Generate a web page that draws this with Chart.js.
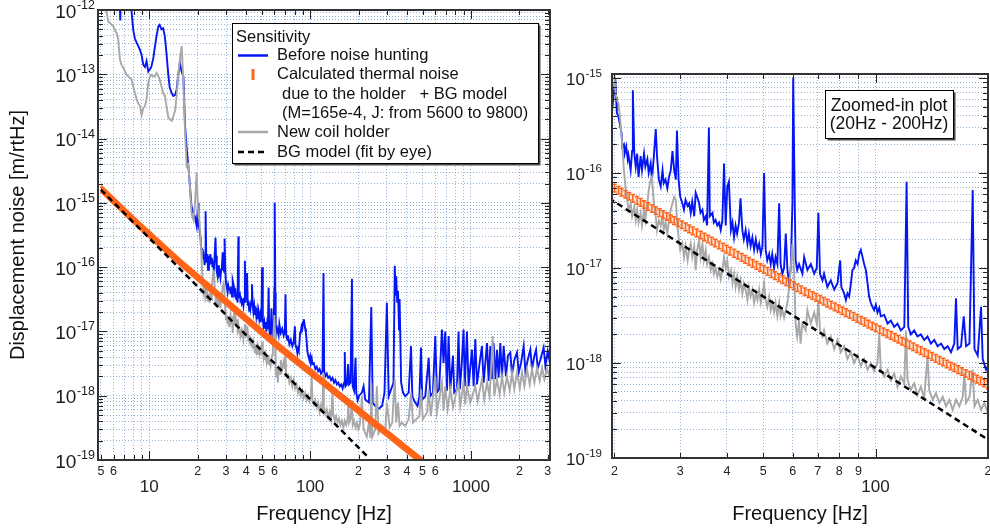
<!DOCTYPE html>
<html>
<head>
<meta charset="utf-8">
<script src="https://cdn.jsdelivr.net/npm/chart.js@4.4.0/dist/chart.umd.min.js"></script>
<style>
  html, body { margin: 0; padding: 0; background: #fff; overflow: hidden; }
  #wrap { position: relative; width: 990px; height: 530px; overflow: hidden; background: #fff; }
  #left { position: absolute; left: 0; top: 0; }
  #right { position: absolute; left: 560px; top: 0; }
</style>
</head>
<body>
<div id="wrap">
  <canvas id="left" width="560" height="530"></canvas>
  <canvas id="right" width="440" height="530"></canvas>
</div>
<script>
// ---- data ----
const blueF = [4.8, 6.5, 6.6, 6.7, 7.7, 7.76, 7.95, 8.14, 8.34, 8.55, 8.75, 8.96, 9.18, 9.4, 9.62, 9.86, 10.1, 10.3, 10.6, 10.8,
  11.1, 11.4, 11.6, 11.9, 12.2, 12.5, 12.8, 13.1, 13.4, 13.8, 14.1, 14.5, 14.8, 15.1, 15.5, 15.9, 16.3, 16.7, 17.1, 17.5,
  17.9, 18.3, 18.8, 19.2, 19.7, 20.1, 20.2, 20.3, 20.5, 20.8, 20.9, 21.0, 21.2, 21.3, 21.5, 21.7, 21.8, 22.1, 22.3, 22.4,
  22.6, 22.8, 23.0, 23.2, 23.5, 23.7, 24.0, 24.2, 24.5, 24.7, 25.0, 25.2, 25.5, 25.8, 26.0, 26.3, 26.6, 26.9, 27.1, 27.4,
  27.7, 28.0, 28.3, 28.6, 28.9, 29.2, 29.4, 29.7, 30.0, 30.4, 30.7, 31.0, 31.4, 31.7, 32.0, 32.3, 32.7, 33.0, 33.3, 33.7,
  34.0, 34.4, 34.7, 35.1, 35.4, 35.8, 36.0, 36.6, 36.9, 37.3, 37.7, 38.1, 38.5, 38.9, 39.3, 39.7, 40.1, 40.5, 41.0, 41.4,
  41.8, 42.2, 42.6, 43.1, 43.5, 44.0, 44.4, 44.9, 45.4, 45.8, 46.3, 46.8, 47.3, 47.8, 48.3, 48.8, 49.3, 49.8, 50.3, 50.8,
  51.3, 51.9, 52.4, 52.9, 53.5, 54.0, 54.6, 55.2, 55.7, 56.3, 56.9, 57.5, 58.1, 58.7, 59.3, 59.9, 60.2, 60.8, 61.1, 61.7,
  62.4, 63.7, 64.4, 65.7, 67.1, 68.5, 69.6, 70.3, 71.0, 72.1, 72.8, 74.3, 75.9, 77.5, 79.1, 80.4, 81.0, 82.4, 83.3, 84.1,
  85.0, 85.9, 86.7, 87.6, 88.5, 89.5, 90.4, 91.3, 92.3, 93.2, 94.2, 95.2, 96.1, 97.1, 98.1, 99.1, 100.2, 101.2, 102.3, 103.3,
  105.5, 107.7, 109.9, 112.2, 114.5, 116.9, 119.4, 121.1, 122.3, 124.3, 126.9, 129.5, 132.2, 135.0, 137.8, 140.7, 143.6, 146.6, 149.7, 152.8,
  156.0, 159.2, 162.5, 164.2, 165.9, 169.4, 172.2, 174.7, 178.4, 182.0, 184.0, 187.7, 191.6, 193.6, 197.6, 201.7, 210, 215, 220, 232,
  240, 245, 254, 266, 280, 290, 300, 308, 319, 330, 336, 340, 343, 348, 352, 357, 360, 368, 378, 390,
  410, 424, 432, 450, 465, 478, 489, 498, 520, 546, 558, 580, 600, 614, 634, 660, 675, 692, 709, 726,
  744, 773, 787, 818, 837, 853, 877, 899, 916, 944, 966, 1014, 1039, 1064, 1090, 1131, 1170, 1199, 1258, 1288,
  1320, 1351, 1383, 1417, 1451, 1486, 1522, 1559, 1597, 1650, 1699, 1757, 1799, 1860, 1933, 1980, 2047, 2127, 2179, 2253,
  2340, 2397, 2480, 2540, 2600, 2700, 2830, 2902, 3000, 3100];
const blueV = [3e-12, 3e-12, 6.9e-13, 3e-12, 3e-12, 9.5e-13, 4.9e-13, 3.6e-13, 3.1e-13, 2.75e-13, 2.4e-13, 2.0e-13, 1.4e-13, 1.3e-13, 1.6e-13, 1.1e-13, 1.2e-13, 1.3e-13, 1.8e-13, 2.5e-13,
  4.0e-13, 5.6e-13, 5.9e-13, 5.0e-13, 5.2e-13, 3.9e-13, 2.1e-13, 1.05e-13, 6.2e-14, 5.1e-14, 4.6e-14, 4.8e-14, 5.8e-14, 9.3e-14, 1.5e-13, 1.1e-13, 9.3e-14, 1.55e-14, 6.8e-15, 3.7e-15,
  1.8e-15, 8.9e-16, 6.9e-16, 6.2e-16, 4.4e-16, 1.0e-15, 6.3e-16, 4.3e-16, 3.9e-16, 2.9e-16, 2.6e-16, 1.9e-16, 2.0e-16, 1.6e-16, 1.9e-16, 1.4e-16, 1.55e-16, 1.07e-16, 1.7e-16, 7.4e-16,
  1.6e-16, 1.17e-16, 1.6e-16, 9.1e-17, 1.5e-16, 1.07e-16, 1.6e-16, 1.17e-16, 1.4e-16, 1.0e-16, 1.26e-16, 8.5e-17, 1.5e-16, 2.9e-16, 1.5e-16, 8.5e-17, 7.2e-17, 1.07e-16, 7.8e-17, 8.5e-17,
  6.9e-17, 9.1e-17, 1.07e-16, 1.7e-16, 1.07e-16, 8.5e-17, 2.8e-16, 8.5e-17, 5.6e-17, 4.8e-17, 4.1e-17, 5.2e-17, 4.5e-17, 4.8e-17, 3.8e-17, 5.0e-17, 3.5e-17, 6.2e-17, 5.6e-17, 4.8e-17,
  3.8e-17, 4.1e-17, 3.2e-17, 3.5e-17, 2.8e-17, 3.0e-16, 3.5e-17, 3.8e-17, 3.0e-17, 3.2e-17, 2.8e-17, 3.0e-17, 2.5e-17, 3.2e-17, 1.26e-16, 2.8e-17, 7.2e-17, 8.1e-17, 2.5e-17, 3.0e-17,
  2.1e-17, 2.8e-17, 2.3e-17, 3.0e-17, 5.4e-17, 2.5e-17, 2.0e-17, 2.5e-17, 1.8e-17, 2.3e-17, 1.7e-17, 2.1e-17, 1.55e-17, 2.0e-17, 1.55e-17, 1.8e-17, 1.4e-17, 1.7e-17, 1.0e-16, 1.55e-17,
  1.2e-17, 1.4e-17, 1.1e-17, 1.4e-17, 1.0e-17, 1.3e-17, 1.1e-17, 4.8e-17, 1.1e-17, 8.7e-18, 1.0e-17, 2.3e-17, 9.5e-18, 6.9e-18, 1.0e-17, 4.8e-17, 1.0e-15, 4.0e-17, 1.2e-17, 9.5e-18,
  1.1e-17, 8.7e-18, 1.3e-17, 9.5e-18, 1.1e-17, 8.7e-18, 1.0e-17, 3.8e-17, 8.7e-18, 7.4e-18, 8.7e-18, 6.3e-18, 7.4e-18, 5.9e-18, 6.9e-18, 1.2e-17, 6.3e-18, 5.4e-18, 4.6e-18, 5.4e-18,
  5.0e-18, 6.9e-18, 9.5e-18, 1.0e-17, 1.2e-17, 1.1e-17, 1.4e-17, 1.55e-17, 1.3e-17, 1.1e-17, 9.5e-18, 6.9e-18, 5.0e-18, 4.3e-18, 3.9e-18, 3.6e-18, 4.1e-18, 3.4e-18, 3.8e-18, 3.1e-18,
  3.2e-18, 2.6e-18, 2.8e-18, 2.4e-18, 2.6e-18, 2.2e-18, 2.4e-18, 8.1e-17, 2.4e-18, 2.0e-18, 2.2e-18, 1.9e-18, 2.0e-18, 1.75e-18, 1.9e-18, 1.6e-18, 1.75e-18, 1.5e-18, 1.6e-18, 1.4e-18,
  1.5e-18, 1.3e-18, 1.6e-18, 4.8e-18, 1.4e-18, 1.5e-18, 3.1e-18, 1.5e-18, 1.6e-18, 6.6e-17, 1.4e-18, 1.2e-18, 3.9e-18, 1.1e-18, 8.5e-19, 1.0e-18, 1.12e-18, 1.4e-18, 8.7e-19, 7.8e-19,
  2.4e-17, 7.8e-19, 6.9e-19, 6.2e-19, 6.9e-19, 1.12e-18, 2.8e-17, 9.8e-19, 1.26e-18, 1.6e-18, 1.05e-16, 3.6e-17, 7.2e-17, 2.8e-17, 4.3e-17, 1.07e-17, 3.2e-17, 1.6e-18, 1.12e-18, 9.8e-19,
  1.12e-18, 5.9e-18, 9.8e-19, 7.8e-19, 6.9e-19, 9.8e-19, 5.6e-18, 8.7e-19, 9.8e-19, 3.9e-18, 9.8e-19, 1.12e-18, 8.5e-18, 1.12e-18, 1.26e-18, 1.07e-17, 3.2e-18, 1.0e-17, 1.2e-18, 8.5e-18,
  1.26e-18, 4.2e-18, 1.12e-18, 1.26e-18, 1.0e-17, 1.26e-18, 3.2e-18, 1.07e-17, 1.4e-18, 1.0e-17, 1.4e-18, 5.2e-18, 1.4e-18, 7.6e-18, 1.5e-18, 3.2e-18, 5.9e-18, 1.6e-18, 6.6e-18, 1.7e-18,
  5.9e-18, 1.8e-18, 6.6e-18, 1.8e-18, 5.2e-18, 1.9e-18, 6.6e-18, 1.9e-18, 5.9e-18, 2.0e-18, 4.2e-18, 4.7e-18, 2.1e-18, 3.6e-18, 4.7e-18, 2.3e-18, 3.2e-18, 5.9e-18, 2.4e-18, 3.6e-18,
  5.2e-18, 2.6e-18, 4.2e-18, 5.2e-18, 2.7e-18, 3.6e-18, 5.6e-18, 2.9e-18, 4.9e-18, 3.2e-18];

const grayF = [4.8, 5.3, 5.42, 5.56, 5.69, 5.83, 5.97, 6.11, 6.26, 6.41, 6.57, 6.73, 6.89, 7.06, 7.23, 7.4, 7.58, 7.76, 7.95, 8.14,
  8.34, 8.55, 8.75, 8.96, 9.18, 9.4, 9.62, 9.86, 10.1, 10.3, 10.6, 10.8, 11.1, 11.4, 11.6, 11.9, 12.2, 12.5, 12.8, 13.1,
  13.4, 13.8, 14.1, 14.5, 14.8, 15.1, 15.5, 15.9, 16.3, 16.7, 17.1, 17.5, 17.9, 18.3, 18.8, 19.2, 19.7, 20.1, 20.3, 20.5,
  20.8, 21.0, 21.2, 21.4, 21.6, 21.8, 22.1, 22.3, 22.6, 22.8, 23.0, 23.2, 23.5, 23.7, 24.0, 24.2, 24.5, 24.7, 25.0, 25.2,
  25.5, 25.8, 26.0, 26.3, 26.6, 26.9, 27.1, 27.4, 27.7, 28.0, 28.3, 28.6, 28.9, 29.2, 29.4, 29.7, 30.0, 30.4, 30.7, 31.0,
  31.4, 31.7, 32.0, 32.3, 32.7, 33.0, 33.3, 33.7, 34.0, 34.4, 34.7, 35.1, 35.4, 35.8, 36.2, 36.6, 36.9, 37.3, 37.7, 38.1,
  38.5, 38.9, 39.3, 39.7, 40.1, 40.5, 41.0, 41.4, 41.8, 42.2, 42.6, 43.1, 43.5, 44.0, 44.4, 44.9, 45.4, 45.8, 46.3, 46.8,
  47.3, 47.8, 48.3, 48.8, 49.3, 49.8, 50.3, 50.8, 51.3, 51.9, 52.4, 52.9, 53.5, 54.0, 54.6, 55.2, 55.7, 56.3, 56.9, 57.5,
  58.1, 58.7, 59.3, 59.9, 60.5, 61.1, 61.7, 62.4, 63.0, 63.7, 65.0, 65.7, 67.1, 68.5, 69.6, 70.3, 71.0, 72.1, 72.8, 74.3,
  75.9, 77.5, 79.1, 80.7, 82.4, 84.1, 85.9, 87.6, 89.5, 91.3, 93.2, 95.2, 97.1, 99.1, 101.2, 102.3, 103.3, 105.5, 107.7, 109.9,
  112.2, 114.5, 116.9, 119.4, 120.6, 121.8, 124.3, 126.9, 129.5, 132.2, 135.0, 137.8, 139.2, 142.2, 145.1, 148.2, 151.3, 154.4, 157.6, 160.9,
  164.2, 167.6, 171.1, 172.9, 174.7, 178.4, 182.0, 184.0, 187.7, 191.6, 195.6, 199.6, 203.7, 210, 215, 225, 232, 237, 240, 244,
  254, 260, 266, 280, 293, 300, 312, 324, 336, 343, 352, 360, 372, 390, 410, 424, 436, 457, 478, 489,
  502, 534, 546, 563, 600, 614, 660, 675, 692, 716, 744, 773, 837, 858, 899, 921, 944, 990, 1064, 1100,
  1170, 1210, 1258, 1306, 1364, 1395, 1451, 1507, 1559, 1612, 1674, 1740, 1799, 1860, 1933, 2010, 2077, 2148, 2230, 2320,
  2397, 2480, 2575, 2675, 2766, 2860, 2970, 3100];
const grayV = [2e-12, 1.3e-12, 9.5e-13, 6.6e-13, 6.3e-13, 5.9e-13, 5.6e-13, 4.9e-13, 4.4e-13, 3.5e-13, 1.7e-13, 1.4e-13, 1.26e-13, 1.12e-13, 9.8e-14, 9.3e-14, 8.7e-14, 8.3e-14, 6.5e-14, 5.1e-14,
  4.1e-14, 3.5e-14, 3.2e-14, 2.3e-14, 3.0e-14, 3.2e-14, 4.1e-14, 7.4e-14, 9.3e-14, 9.8e-14, 9.3e-14, 9.3e-14, 1.05e-13, 9.3e-14, 8.3e-14, 6.5e-14, 5.1e-14, 4.6e-14, 3.2e-14, 2.2e-14,
  2.0e-14, 1.9e-14, 2.2e-14, 2.8e-14, 4.6e-14, 9.3e-14, 1.7e-13, 2.75e-13, 7.4e-14, 1.2e-14, 3.7e-15, 4.0e-15, 1.8e-15, 6.9e-16, 5.5e-16, 8.9e-16, 3.0e-15, 7.4e-16, 5.9e-16, 5.4e-16,
  3.1e-16, 1.9e-16, 1.07e-16, 7.2e-17, 5.6e-17, 4.1e-17, 4.8e-17, 3.5e-17, 4.4e-17, 3.2e-17, 4.1e-17, 3.0e-17, 3.8e-17, 2.8e-17, 4.1e-17, 3.2e-17, 4.8e-17, 6.6e-17, 8.5e-17, 9.1e-17,
  4.8e-17, 3.5e-17, 2.5e-17, 3.2e-17, 2.8e-17, 3.5e-17, 2.5e-17, 3.0e-17, 2.3e-17, 3.2e-17, 4.1e-17, 4.8e-17, 5.6e-17, 5.2e-17, 3.2e-17, 2.1e-17, 1.55e-17, 1.8e-17, 1.3e-17, 1.7e-17,
  1.2e-17, 1.55e-17, 1.8e-17, 1.3e-17, 1.7e-17, 9.5e-18, 1.55e-17, 1.95e-17, 1.3e-17, 1.8e-17, 1.2e-17, 1.55e-17, 1.1e-17, 1.3e-17, 9.5e-18, 1.1e-17, 8.7e-18, 1.0e-17, 8.1e-18, 9.5e-18,
  7.6e-18, 9.5e-18, 1.3e-17, 1.0e-17, 1.2e-17, 8.1e-18, 9.5e-18, 6.9e-18, 8.7e-18, 6.3e-18, 8.1e-18, 5.9e-18, 7.4e-18, 5.4e-18, 6.9e-18, 5.9e-18, 4.6e-18, 6.3e-18, 5.0e-18, 5.9e-18,
  4.3e-18, 5.4e-18, 4.6e-18, 5.9e-18, 4.3e-18, 5.4e-18, 6.9e-18, 4.6e-18, 3.9e-18, 5.0e-18, 3.6e-18, 4.3e-18, 3.4e-18, 4.3e-18, 3.1e-18, 4.3e-18, 3.1e-18, 3.6e-18, 3.0e-18, 3.6e-18,
  4.3e-18, 6.3e-18, 1.0e-17, 1.8e-17, 9.5e-18, 2.6e-18, 1.9e-18, 2.8e-18, 1.6e-18, 2.6e-18, 2.2e-18, 3.6e-18, 2.6e-18, 3.4e-18, 2.6e-18, 4.6e-18, 2.2e-18, 1.9e-18, 2.2e-18, 1.6e-18,
  1.9e-18, 1.4e-18, 1.75e-18, 1.3e-18, 1.5e-18, 1.1e-18, 1.3e-18, 1.0e-18, 1.2e-18, 9.3e-19, 1.1e-18, 8.5e-19, 1.0e-18, 8.2e-19, 1.0e-18, 2.0e-18, 8.5e-19, 7.2e-19, 8.5e-19, 6.6e-19,
  7.8e-19, 5.6e-19, 7.2e-19, 6.1e-19, 2.2e-18, 6.6e-19, 5.2e-19, 6.1e-19, 4.6e-19, 5.6e-19, 4.3e-19, 1.2e-18, 5.2e-19, 4.1e-19, 4.8e-19, 3.8e-19, 4.4e-19, 3.5e-19, 4.1e-19, 3.2e-19,
  4.1e-19, 3.5e-19, 4.4e-19, 7.8e-19, 3.8e-19, 4.4e-19, 8.5e-19, 3.5e-19, 4.1e-19, 3.2e-19, 3.8e-19, 3.0e-19, 3.5e-19, 9.8e-19, 3.0e-19, 2.3e-19, 3.8e-19, 2.2e-19, 1.6e-18, 2.3e-19,
  3.0e-19, 1.4e-18, 2.6e-19, 3.4e-19, 2.8e-19, 7.8e-19, 3.2e-19, 3.8e-19, 1.8e-18, 3.8e-19, 7.8e-19, 3.4e-19, 3.8e-19, 3.4e-19, 4.3e-19, 1.12e-18, 3.8e-19, 4.3e-19, 4.8e-19, 1.26e-18,
  4.3e-19, 5.5e-19, 1.26e-18, 4.8e-19, 2.0e-18, 5.5e-19, 1.6e-18, 5.8e-19, 1.4e-18, 6.2e-19, 1.26e-18, 6.6e-19, 1.6e-18, 6.9e-19, 1.6e-18, 7.3e-19, 1.4e-18, 7.8e-19, 1.4e-18, 8.2e-19,
  1.8e-18, 8.7e-19, 1.6e-18, 9.8e-19, 8.5e-18, 9.8e-19, 1.8e-18, 1.05e-18, 2.0e-18, 1.12e-18, 2.0e-18, 1.2e-18, 2.3e-18, 1.26e-18, 2.3e-18, 1.3e-18, 2.3e-18, 1.4e-18, 2.6e-18, 1.5e-18,
  2.6e-18, 1.6e-18, 2.7e-18, 1.7e-18, 2.7e-18, 1.8e-18, 2.6e-18, 1.9e-18];

// calculated thermal noise + BG model: lower / upper end of each error bar
const thermF = [5.0, 6.31, 7.94, 10.0, 12.6, 15.8,
  20.0, 20.5, 20.9, 21.4, 21.9, 22.4, 23.0, 23.5, 24.0, 24.6, 25.2, 25.8, 26.4, 27.0, 27.6, 28.3, 28.9, 29.6, 30.3, 31.0,
  31.7, 32.4, 33.2, 34.0, 34.8, 35.6, 36.4, 37.2, 38.1, 39.0, 39.9, 40.8, 41.8, 42.8, 43.8, 44.8, 45.8, 46.9, 48.0, 49.1,
  50.2, 51.4, 52.6, 53.8, 55.1, 56.4, 57.7, 59.0, 60.4, 61.8, 63.2, 64.7, 66.2, 67.8, 69.3, 71.0, 72.6, 74.3, 76.0, 77.8,
  79.6, 81.5, 83.4, 85.3, 87.3, 89.3, 91.4, 93.5, 95.7, 98.0, 100.2, 102.6, 105.0, 107.4, 109.9, 112.5, 115.1, 117.8, 120.5, 123.3,
  126.2, 129.1, 132.1, 135.2, 138.4, 141.6, 144.9, 148.3, 151.7, 155.2, 158.9, 162.6, 166.4, 170.2, 174.2, 178.3, 182.4, 186.7, 191.0, 195.4,
  200.0, 251, 316, 398, 501, 550];
const thermHi = [1.82e-15, 1.05e-15, 6.03e-16, 3.55e-16, 2.09e-16, 1.26e-16,
  7.59e-17, 7.22e-17, 6.87e-17, 6.54e-17, 6.23e-17, 5.93e-17, 5.64e-17, 5.37e-17, 5.11e-17, 4.87e-17, 4.63e-17, 4.41e-17, 4.20e-17, 4.00e-17, 3.81e-17, 3.62e-17, 3.45e-17, 3.28e-17, 3.13e-17, 2.97e-17,
  2.83e-17, 2.70e-17, 2.57e-17, 2.44e-17, 2.32e-17, 2.21e-17, 2.11e-17, 2.01e-17, 1.91e-17, 1.82e-17, 1.73e-17, 1.65e-17, 1.57e-17, 1.49e-17, 1.42e-17, 1.35e-17, 1.29e-17, 1.23e-17, 1.17e-17, 1.11e-17,
  1.06e-17, 1.01e-17, 9.58e-18, 9.12e-18, 8.68e-18, 8.26e-18, 7.86e-18, 7.48e-18, 7.12e-18, 6.78e-18, 6.46e-18, 6.17e-18, 5.89e-18, 5.62e-18, 5.37e-18, 5.13e-18, 4.90e-18, 4.68e-18, 4.47e-18, 4.27e-18,
  4.07e-18, 3.89e-18, 3.72e-18, 3.55e-18, 3.39e-18, 3.24e-18, 3.09e-18, 2.95e-18, 2.82e-18, 2.69e-18, 2.57e-18, 2.45e-18, 2.34e-18, 2.24e-18, 2.14e-18, 2.04e-18, 1.95e-18, 1.86e-18, 1.78e-18, 1.70e-18,
  1.62e-18, 1.55e-18, 1.48e-18, 1.41e-18, 1.35e-18, 1.29e-18, 1.23e-18, 1.17e-18, 1.12e-18, 1.07e-18, 1.02e-18, 9.77e-19, 9.33e-19, 8.91e-19, 8.51e-19, 8.13e-19, 7.76e-19, 7.41e-19, 7.08e-19, 6.76e-19,
  6.46e-19, 4.07e-19, 2.57e-19, 1.62e-19, 1.02e-19, 8.51e-20];
const thermLo = [1.51e-15, 8.71e-16, 5.01e-16, 2.95e-16, 1.74e-16, 1.05e-16,
  6.31e-17, 6.01e-17, 5.72e-17, 5.44e-17, 5.18e-17, 4.93e-17, 4.69e-17, 4.47e-17, 4.25e-17, 4.05e-17, 3.86e-17, 3.67e-17, 3.49e-17, 3.33e-17, 3.17e-17, 3.01e-17, 2.87e-17, 2.73e-17, 2.60e-17, 2.47e-17,
  2.35e-17, 2.24e-17, 2.13e-17, 2.03e-17, 1.93e-17, 1.84e-17, 1.75e-17, 1.67e-17, 1.59e-17, 1.51e-17, 1.44e-17, 1.37e-17, 1.30e-17, 1.24e-17, 1.18e-17, 1.12e-17, 1.07e-17, 1.02e-17, 9.70e-18, 9.23e-18,
  8.79e-18, 8.37e-18, 7.96e-18, 7.58e-18, 7.22e-18, 6.87e-18, 6.54e-18, 6.23e-18, 5.93e-18, 5.64e-18, 5.37e-18, 5.13e-18, 4.90e-18, 4.68e-18, 4.47e-18, 4.27e-18, 4.07e-18, 3.89e-18, 3.72e-18, 3.55e-18,
  3.39e-18, 3.24e-18, 3.09e-18, 2.95e-18, 2.82e-18, 2.69e-18, 2.57e-18, 2.45e-18, 2.34e-18, 2.24e-18, 2.14e-18, 2.04e-18, 1.95e-18, 1.86e-18, 1.78e-18, 1.70e-18, 1.62e-18, 1.55e-18, 1.48e-18, 1.41e-18,
  1.35e-18, 1.29e-18, 1.23e-18, 1.17e-18, 1.12e-18, 1.07e-18, 1.02e-18, 9.77e-19, 9.33e-19, 8.91e-19, 8.51e-19, 8.13e-19, 7.76e-19, 7.41e-19, 7.08e-19, 6.76e-19, 6.46e-19, 6.17e-19, 5.89e-19, 5.62e-19,
  5.37e-19, 3.39e-19, 2.14e-19, 1.35e-19, 8.51e-20, 7.08e-20];

// BG model (fit by eye)
const bgF = [5, 230];
const bgV = [1.6e-15, 1.1e-19];

// axis ticks
const leftXTickVals = [5, 6, 7, 8, 9, 10, 20, 30, 40, 50, 60, 70, 80, 90, 100, 200, 300, 400, 500, 600, 700, 800, 900, 1000, 2000, 3000];
const leftXTickText = ['5', '6', '', '', '', '10', '2', '3', '4', '5', '6', '', '', '', '100', '2', '3', '4', '5', '6', '', '', '', '1000', '2', '3'];
const rightXTickVals = [20, 30, 40, 50, 60, 70, 80, 90, 100, 200];
const rightXTickText = ['2', '3', '4', '5', '6', '7', '8', '9', '100', '2'];
const leftYDecades = [-19, -18, -17, -16, -15, -14, -13, -12];
const rightYDecades = [-19, -18, -17, -16, -15];

const legendRows = ['Sensitivity', 'Before noise hunting', 'Calculated thermal noise', 'due to the holder   + BG model',
  '(M=165e-4, J: from 5600 to 9800)', 'New coil holder', 'BG model (fit by eye)'];
const noteLines = ['Zoomed-in plot', '(20Hz - 200Hz)'];

// ---- styling ----
const FONT = '"Liberation Sans", Arial, Helvetica, sans-serif';
const ORANGE = '#ff6419';
const BLUE = '#0516f5';
const GRAY = '#a8a8a8';
const GRID = 'rgba(80,130,190,0.6)';
Chart.defaults.font.family = FONT;
Chart.defaults.animation = false;

function isDecade(v) {
  const l = Math.log10(v);
  return Math.abs(l - Math.round(l)) < 1e-6;
}

function pts(fs, vs) {
  return fs.map((f, i) => ({ x: f, y: vs[i] }));
}

function yTickValues(decades) {
  const out = [];
  decades.forEach((e, i) => {
    const base = Math.pow(10, e);
    out.push(base);
    if (i < decades.length - 1) {
      for (let m = 2; m <= 9; m++) out.push(m * base);
    }
  });
  return out;
}

function line(ctx, x1, y1, x2, y2) {
  ctx.beginPath();
  ctx.moveTo(x1, y1);
  ctx.lineTo(x2, y2);
  ctx.stroke();
}

function boxWithShadow(ctx, x, y, w, h) {
  ctx.fillStyle = '#4a4a4a';
  ctx.fillRect(x + 2.5, y + 2.5, w, h);
  ctx.fillStyle = '#fff';
  ctx.fillRect(x, y, w, h);
  ctx.strokeStyle = '#000';
  ctx.lineWidth = 1;
  ctx.strokeRect(x + 0.5, y + 0.5, w, h);
}

const framePlugin = {
  id: 'frame',
  afterDatasetDraw(chart, args, opts) {
    if (!opts.bars || chart.data.datasets[args.index].label !== 'thermHi') return;
    const ctx = chart.ctx, xs = chart.scales.x, ys = chart.scales.y, a = chart.chartArea;
    ctx.save();
    ctx.beginPath();
    ctx.rect(a.left, a.top, a.right - a.left, a.bottom - a.top);
    ctx.clip();
    ctx.strokeStyle = ORANGE;
    ctx.lineWidth = 1.5;
    thermF.forEach((f, i) => {
      if (f < xs.min || f > xs.max) return;
      const x = xs.getPixelForValue(f);
      const y1 = ys.getPixelForValue(thermHi[i]);
      const y2 = ys.getPixelForValue(thermLo[i]);
      ctx.beginPath();
      ctx.moveTo(x, y1); ctx.lineTo(x, y2);
      ctx.moveTo(x - 2.2, y1); ctx.lineTo(x + 2.2, y1);
      ctx.moveTo(x - 2.2, y2); ctx.lineTo(x + 2.2, y2);
      ctx.stroke();
    });
    ctx.restore();
  },
  afterDraw(chart, args, opts) {
    const ctx = chart.ctx, xs = chart.scales.x, ys = chart.scales.y, a = chart.chartArea;
    ctx.save();
    // inward tick marks on all four sides
    ctx.strokeStyle = '#222';
    ctx.lineWidth = 1;
    xs.ticks.forEach(t => {
      const len = isDecade(t.value) ? 9 : 5;
      const p = Math.round(xs.getPixelForValue(t.value)) + 0.5;
      line(ctx, p, a.bottom, p, a.bottom - len);
      line(ctx, p, a.top, p, a.top + len);
    });
    ys.ticks.forEach(t => {
      const len = isDecade(t.value) ? 9 : 5;
      const p = Math.round(ys.getPixelForValue(t.value)) + 0.5;
      line(ctx, a.left, p, a.left + len, p);
      line(ctx, a.right, p, a.right - len, p);
    });
    // frame
    ctx.strokeStyle = '#333';
    ctx.lineWidth = 2;
    ctx.strokeRect(a.left, a.top, a.right - a.left, a.bottom - a.top);

    // y tick labels as 10 with a raised exponent
    ctx.fillStyle = '#1a1a1a';
    ctx.textBaseline = 'middle';
    ctx.textAlign = 'left';
    const baseFont = `${opts.baseSize}px ${FONT}`;
    const expFont = `${opts.expSize}px ${FONT}`;
    ys.ticks.forEach(t => {
      if (!isDecade(t.value)) return;
      const y = ys.getPixelForValue(t.value);
      const e = String(Math.round(Math.log10(t.value)));
      ctx.font = baseFont;
      const wb = ctx.measureText('10').width;
      ctx.font = expFont;
      const we = ctx.measureText(e).width;
      const x0 = a.left - opts.gap - we - wb - 0.5;
      ctx.font = baseFont;
      ctx.fillText('10', x0, y + 2.5);
      ctx.font = expFont;
      ctx.fillText(e, x0 + wb + 0.5, y - 4.5);
    });

    if (opts.legend) {
      boxWithShadow(ctx, 232, 23, 306, 140);
      ctx.font = `16.5px ${FONT}`;
      ctx.fillStyle = '#111';
      ctx.textBaseline = 'middle';
      ctx.fillText(legendRows[0], 236, 37);
      ctx.fillText(legendRows[1], 277, 55.5);
      ctx.fillText(legendRows[2], 277, 74.5);
      ctx.fillText(legendRows[3], 282, 94.5);
      ctx.fillText(legendRows[4], 282, 113.5);
      ctx.fillText(legendRows[5], 277, 132);
      ctx.fillText(legendRows[6], 277, 152);
      ctx.lineWidth = 2.5;
      ctx.strokeStyle = BLUE;
      line(ctx, 238, 55.5, 268, 55.5);
      ctx.fillStyle = ORANGE;
      ctx.fillRect(251.5, 69, 3, 11);
      ctx.strokeStyle = GRAY;
      line(ctx, 238, 132, 268, 132);
      ctx.strokeStyle = '#000';
      ctx.setLineDash([6, 4]);
      line(ctx, 238, 152, 266, 152);
      ctx.setLineDash([]);
    }
    if (opts.note) {
      const n = opts.note;
      boxWithShadow(ctx, n.x, n.y, n.w, n.h);
      ctx.font = `17.5px ${FONT}`;
      ctx.fillStyle = '#111';
      ctx.textAlign = 'center';
      ctx.textBaseline = 'middle';
      ctx.fillText(noteLines[0], n.x + n.w / 2, n.y + 16);
      ctx.fillText(noteLines[1], n.x + n.w / 2, n.y + 34);
    }
    ctx.restore();
  }
};

function makeDatasets(isLeft) {
  return [
    { label: 'bg', data: pts(bgF, bgV), borderColor: '#000', borderWidth: 2.5, borderDash: [6, 4], order: 0 },
    { label: 'thermHi', data: pts(thermF, thermHi), borderColor: ORANGE, borderWidth: isLeft ? 2.8 : 0,
      fill: '+1', backgroundColor: isLeft ? ORANGE : 'rgba(255,110,40,0.2)', order: 1 },
    { label: 'thermLo', data: pts(thermF, thermLo), borderColor: ORANGE, borderWidth: isLeft ? 2.8 : 0, order: 2 },
    { label: 'gray', data: pts(grayF, grayV), borderColor: GRAY, borderWidth: 1.9, order: 3 },
    { label: 'blue', data: pts(blueF, blueV), borderColor: BLUE, borderWidth: 1.9, order: 4 }
  ];
}

function makeChart(canvasId, cfg) {
  const canvas = document.getElementById(canvasId);
  const yVals = yTickValues(cfg.yDecades);
  return new Chart(canvas, {
    type: 'line',
    data: { datasets: makeDatasets(cfg.isLeft) },
    options: {
      responsive: false,
      animation: false,
      parsing: false,
      normalized: true,
      layout: { padding: cfg.padding },
      elements: { point: { radius: 0 }, line: { tension: 0 } },
      datasets: { line: { clip: 0 } },
      plugins: {
        legend: { display: false },
        tooltip: { enabled: false },
        frame: cfg.frame
      },
      scales: {
        x: {
          type: 'logarithmic',
          min: cfg.xMin,
          max: cfg.xMax,
          afterBuildTicks: s => { s.ticks = cfg.xTickVals.map(v => ({ value: v })); },
          afterFit: s => { s.height = cfg.xHeight; },
          ticks: {
            autoSkip: false,
            maxRotation: 0,
            minRotation: 0,
            padding: cfg.xPad,
            color: '#222',
            callback: (v, i) => {
              const t = cfg.xTickText[i];
              return isDecade(v) ? ['', t] : t;
            },
            font: c => (c.tick && isDecade(c.tick.value))
              ? { size: 17, family: FONT, lineHeight: 0.92 }
              : { size: 12.5, family: FONT, lineHeight: 1.2 }
          },
          grid: { color: GRID, lineWidth: 1, drawTicks: false },
          border: { display: false, dash: [1, 2] },
          title: { display: true, text: 'Frequency [Hz]', color: '#111',
            font: { size: 20, family: FONT }, padding: { top: 0, bottom: 4 } }
        },
        y: {
          type: 'logarithmic',
          min: cfg.yMin,
          max: cfg.yMax,
          afterBuildTicks: s => { s.ticks = yVals.map(v => ({ value: v })); },
          afterFit: s => { s.width = cfg.yWidth; },
          ticks: { display: false },
          grid: { color: GRID, lineWidth: 1, drawTicks: false },
          border: { display: false, dash: [1, 2] },
          title: cfg.isLeft
            ? { display: true, text: 'Displacement noise [m/rtHz]', color: '#111',
                font: { size: 20, family: FONT }, padding: { top: 6, bottom: 0 } }
            : { display: false }
        }
      }
    },
    plugins: [framePlugin]
  });
}

makeChart('left', {
  isLeft: true,
  xMin: 4.8, xMax: 3100, yMin: 1e-19, yMax: 1e-12,
  xTickVals: leftXTickVals, xTickText: leftXTickText, yDecades: leftYDecades,
  padding: { top: 10, right: 10, bottom: 0, left: 0 },
  xHeight: 70, yWidth: 98, xPad: 4,
  frame: { baseSize: 19, expSize: 12.5, gap: 3, legend: true }
});

makeChart('right', {
  isLeft: false,
  xMin: 19.7, xMax: 200, yMin: 1e-19, yMax: 1.1e-15,
  xTickVals: rightXTickVals, xTickText: rightXTickText, yDecades: rightYDecades,
  padding: { top: 74, right: 12, bottom: 0, left: 0 },
  xHeight: 72, yWidth: 52, xPad: 6,
  frame: { baseSize: 17, expSize: 11.5, gap: 10, bars: true,
    note: { x: 265, y: 90, w: 128, h: 48 } }
});
</script>
</body>
</html>
